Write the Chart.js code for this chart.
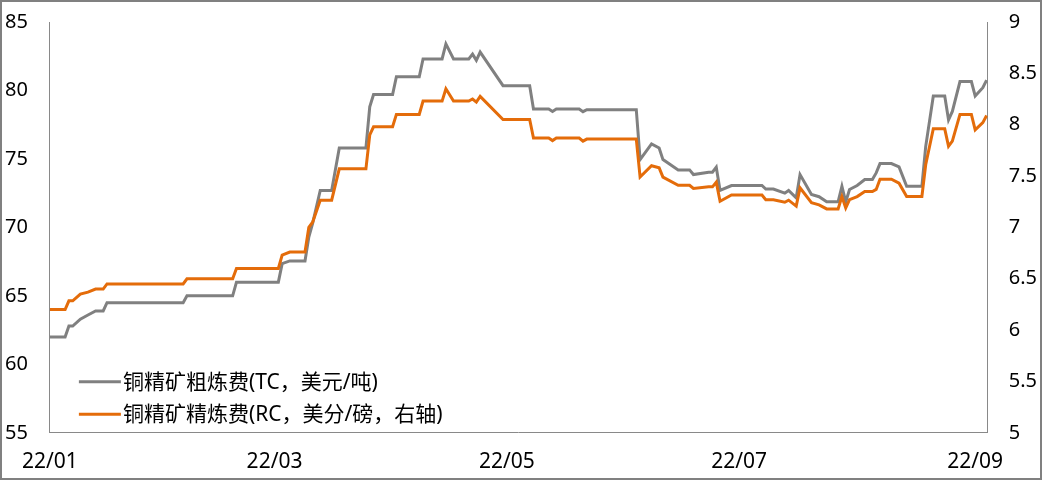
<!DOCTYPE html>
<html>
<head>
<meta charset="utf-8">
<script src="https://cdn.jsdelivr.net/npm/chart.js@4.4.1/dist/chart.umd.min.js"></script>
<style>
html,body{margin:0;padding:0;background:#fff;}
#wrap{width:1042px;height:480px;position:relative;}
</style>
</head>
<body>
<div id="wrap"><canvas id="c" width="1042" height="480"></canvas></div>
<script>
// ---- data (month-day of 2022) ----
const dates = ['01-01','01-05','01-06','01-07','01-09','01-11','01-13','01-15','01-16','02-05',
  '02-06','02-18','02-19','03-02','03-03','03-05','03-09','03-10','03-11','03-13',
  '03-16','03-18','03-25','03-26','03-27','04-01','04-02','04-08','04-09','04-14',
  '04-15','04-17','04-21','04-22','04-23','04-24','04-30','05-07','05-08','05-12',
  '05-13','05-14','05-20','05-21','05-22','06-04','06-05','06-08','06-10','06-11',
  '06-15','06-18','06-19','06-23','06-24','06-25','06-26','06-29','07-07','07-08',
  '07-10','07-13','07-14','07-16','07-17','07-20','07-22','07-24','07-27','07-28',
  '07-29','07-30','08-01','08-03','08-05','08-06','08-07','08-10','08-12','08-14',
  '08-18','08-19','08-21','08-24','08-25','08-26','08-28','08-31','09-01','09-03','09-04'];
const tcValues = [62.0,62.0,62.8,62.8,63.3,63.6,63.9,63.9,64.5,64.5,
  65.0,65.0,66.0,66.0,67.35,67.55,67.55,69.3,70.3,72.7,
  72.7,75.8,75.8,78.8,79.7,79.7,81.0,81.0,82.3,82.3,
  83.4,82.3,82.3,82.65,82.2,82.8,80.35,80.35,78.65,78.65,
  78.47,78.65,78.65,78.45,78.6,78.6,74.95,76.1,75.8,74.95,
  74.2,74.2,73.86,74.03,74.03,74.4,72.7,73.06,73.06,72.8,
  72.8,72.5,72.7,72.16,73.86,72.4,72.24,71.87,71.87,73.0,
  71.86,72.77,73.06,73.5,73.5,73.98,74.66,74.66,74.42,73.0,
  73.0,75.9,79.6,79.6,77.86,78.47,80.65,80.65,79.6,80.2,80.75];
const rcValues = [6.20,6.20,6.285,6.285,6.35,6.37,6.40,6.40,6.45,6.45,
  6.50,6.50,6.60,6.60,6.73,6.76,6.76,7.00,7.05,7.265,
  7.265,7.57,7.57,7.90,7.98,7.98,8.10,8.10,8.23,8.23,
  8.35,8.23,8.23,8.25,8.22,8.275,8.05,8.05,7.87,7.87,
  7.845,7.87,7.87,7.84,7.86,7.86,7.49,7.60,7.58,7.49,
  7.41,7.41,7.38,7.395,7.395,7.44,7.255,7.315,7.315,7.27,
  7.27,7.245,7.265,7.207,7.385,7.24,7.22,7.18,7.18,7.30,
  7.19,7.27,7.30,7.35,7.35,7.37,7.47,7.47,7.43,7.30,
  7.30,7.61,7.96,7.96,7.79,7.84,8.10,8.10,7.95,8.02,8.09];
const tickDates = ['01-01','03-01','05-01','07-01','09-01'];
const tickLabels = ['22/01','22/03','22/05','22/07','22/09'];
const seriesNames = ['铜精矿粗炼费(TC，美元/吨)','铜精矿精炼费(RC，美分/磅，右轴)'];
const endDate = '09-04';

function dayOf(md){
  const p = md.split('-').map(Number);
  return (Date.UTC(2022, p[0]-1, p[1]) - Date.UTC(2022,0,1)) / 86400000;
}

const FONT = "'Noto Sans', 'Noto Sans CJK SC', sans-serif";
const GRAY = '#808080';
const ORANGE = '#E46C0A';
const AXIS = '#898989';

const tcData = dates.map((d,i)=>({x: dayOf(d), y: tcValues[i]}));
const rcData = dates.map((d,i)=>({x: dayOf(d), y: rcValues[i]}));

const framePlugin = {
  id: 'frame',
  beforeDraw(chart){
    const ctx = chart.ctx;
    ctx.save();
    ctx.fillStyle = '#fff';
    ctx.fillRect(0,0,chart.width,chart.height);
    ctx.restore();
  },
  afterDraw(chart){
    const ctx = chart.ctx;
    const ca = chart.chartArea;
    ctx.save();
    ctx.font = '21px ' + FONT;
    ctx.textBaseline = 'middle';
    ctx.textAlign = 'left';
    const rows = [ca.bottom - 51, ca.bottom - 18.5];
    chart.data.datasets.forEach((ds, i) => {
      const y = rows[i];
      ctx.strokeStyle = ds.borderColor;
      ctx.lineWidth = 3;
      ctx.beginPath();
      ctx.moveTo(ca.left + 29, y);
      ctx.lineTo(ca.left + 71, y);
      ctx.stroke();
      ctx.fillStyle = '#000';
      ctx.fillText(ds.label, ca.left + 73, y + 1);
    });
    ctx.strokeStyle = GRAY;
    ctx.lineWidth = 2;
    ctx.strokeRect(1,1,chart.width-2,chart.height-2);
    ctx.restore();
  }
};

const noVPad = (s) => { s.paddingTop = 0; s.paddingBottom = 0; };

const chart = new Chart(document.getElementById('c'), {
  type: 'line',
  data: {
    datasets: [
      {label: seriesNames[0], data: tcData, yAxisID: 'y', borderColor: GRAY, backgroundColor: GRAY,
       borderWidth: 3, pointRadius: 0, pointHoverRadius: 0, pointHitRadius: 0, tension: 0, order: 1},
      {label: seriesNames[1], data: rcData, yAxisID: 'y1', borderColor: ORANGE, backgroundColor: ORANGE,
       borderWidth: 3, pointRadius: 0, pointHoverRadius: 0, pointHitRadius: 0, tension: 0, order: 0}
    ]
  },
  options: {
    responsive: false,
    animation: false,
    devicePixelRatio: 1,
    layout: {autoPadding: false, padding: {left: -17, right: -16, top: 22, bottom: -12}},
    plugins: {legend: {display: false}, tooltip: {enabled: false}},
    scales: {
      x: {
        type: 'linear',
        min: 0,
        max: dayOf(endDate) + 0.3,
        grid: {display: false, drawTicks: false},
        border: {display: true, color: AXIS, width: 1},
        afterBuildTicks: (axis) => { axis.ticks = tickDates.map(d => ({value: dayOf(d)})); },
        ticks: {
          autoSkip: false, maxRotation: 0, padding: 17, color: '#000',
          font: {family: FONT, size: 21},
          callback: (v) => { const k = tickDates.findIndex(d => dayOf(d) === v); return k >= 0 ? tickLabels[k] : ''; }
        }
      },
      y: {
        position: 'left', min: 55, max: 85,
        grid: {display: false, drawTicks: false},
        border: {display: true, color: AXIS, width: 1},
        afterFit: noVPad,
        ticks: {stepSize: 5, padding: 22, color: '#000', font: {family: FONT, size: 20}}
      },
      y1: {
        position: 'right', min: 5, max: 9,
        grid: {display: false, drawTicks: false},
        border: {display: true, color: AXIS, width: 1},
        afterFit: noVPad,
        ticks: {stepSize: 0.5, padding: 21, color: '#000', font: {family: FONT, size: 20},
          callback: (v) => String(Math.round(v*10)/10)}
      }
    }
  },
  plugins: [framePlugin]
});
</script>
</body>
</html>
